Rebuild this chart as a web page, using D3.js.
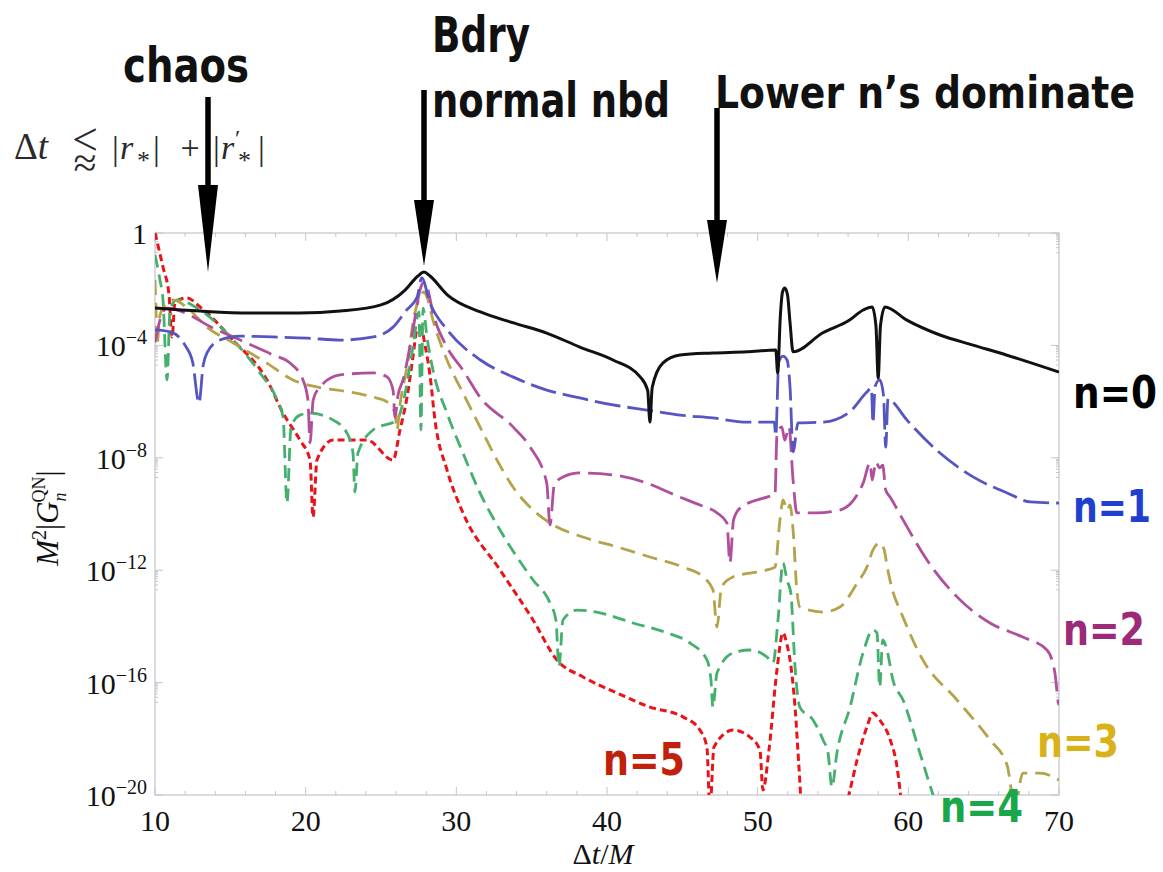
<!DOCTYPE html>
<html lang="en">
<head>
<meta charset="UTF-8">
<title>QN Green's function modes</title>
<style>
  body { margin: 0; background: #fff; }
  svg { display: block; }
  .lbl { font-family: "Liberation Sans Narrow", "DejaVu Sans Condensed", "Arial Narrow", sans-serif; font-weight: 700; }
  .serif { font-family: "Liberation Serif", "DejaVu Serif", serif; }
</style>
</head>
<body>
<div id="chart"></div>
<script src="https://cdn.jsdelivr.net/npm/d3@7"></script>
<script>
// points are [Δt/M, log10 of M^2 |G_n^QN|]
var n0 = [[10,-2.67],[13,-2.78],[16.3,-2.85],[19.6,-2.85],[22.3,-2.78],[25,-2.56],[26.6,-2.03],[27.45,-1.53],[27.85,-1.39],[28.25,-1.53],[29.4,-2.2],[31.6,-2.81],[33.8,-3.2],[36,-3.56],[38.2,-4.06],[40.4,-4.52],[42.2,-5.12],[42.7,-5.6],[42.85,-6.73],[43.0,-5.5],[43.7,-4.63],[44.85,-4.34],[47,-4.27],[49.3,-4.23],[51.2,-4.16],[51.33,-4.98],[51.5,-3.0],[51.65,-2.1],[51.8,-1.96],[51.98,-2.2],[52.15,-3.2],[52.35,-4.23],[54.3,-3.56],[56.1,-3.1],[57,-2.74],[57.6,-2.63],[57.85,-3.3],[58.0,-5.16],[58.15,-3.3],[58.45,-2.63],[59.9,-3.1],[62.1,-3.63],[64.3,-3.99],[66.5,-4.34],[70,-4.95]];

var n1 = [[10,-3.45],[11,-3.52],[12.0,-4.0],[12.5,-4.6],[12.92,-6.05],[13.2,-4.7],[13.45,-4.27],[14.3,-3.81],[15.65,-3.67],[17.8,-3.7],[20.1,-3.74],[22.3,-3.81],[24.5,-3.7],[25.8,-3.35],[26.7,-2.74],[27.4,-2.28],[27.7,-1.6],[28.25,-2.49],[29.4,-3.45],[31.6,-4.52],[33.75,-5.12],[36,-5.59],[38.2,-5.87],[40.4,-6.12],[42.65,-6.3],[44.85,-6.48],[47,-6.58],[49.3,-6.73],[51.1,-6.73],[51.2,-7.22],[51.4,-4.59],[51.68,-4.38],[51.95,-4.52],[52.15,-5.5],[52.35,-7.79],[52.68,-6.76],[54.35,-6.73],[56.1,-6.37],[57.25,-5.66],[57.55,-5.52],[57.65,-6.76],[57.8,-5.45],[58.1,-5.23],[58.35,-5.77],[58.5,-7.62],[58.65,-5.9],[58.8,-5.94],[59.9,-6.65],[62.1,-7.83],[64.3,-8.68],[66.55,-9.25],[68.1,-9.57],[70,-9.61]];

var n2 = [[10,-3.9],[10.33,-3.1],[10.8,-2.67],[12.3,-2.92],[13.45,-3.27],[15.65,-3.81],[17.83,-4.34],[18.96,-4.63],[19.82,-5.23],[20.15,-5.94],[20.29,-7.47],[20.5,-5.94],[20.95,-5.48],[22.28,-5.05],[24.47,-4.98],[25.4,-5.12],[25.8,-5.59],[25.93,-6.55],[26.13,-5.77],[26.46,-5.23],[27.12,-3.45],[27.59,-2.03],[27.79,-1.78],[28.05,-1.92],[28.45,-2.85],[29.38,-4.06],[30.44,-4.88],[31.57,-5.84],[33.76,-6.9],[34.9,-7.62],[36.0,-8.9],[36.22,-10.39],[36.5,-8.97],[37.08,-8.68],[38.2,-8.54],[40.4,-8.61],[42.65,-8.9],[44.84,-9.4],[46.17,-9.68],[47.3,-9.96],[47.96,-10.32],[48.16,-11.74],[48.4,-10.21],[48.83,-9.79],[50.62,-9.4],[51.15,-9.32],[51.28,-7.19],[51.6,-6.9],[51.8,-7.37],[52.08,-6.9],[52.35,-8.79],[52.6,-9.96],[53.9,-9.96],[55.46,-9.86],[57.0,-8.9],[57.46,-8.19],[57.6,-8.79],[57.85,-8.15],[58.1,-8.36],[58.3,-8.26],[58.5,-9.15],[58.8,-9.4],[59.65,-10.21],[61.24,-11.64],[63.23,-12.95],[65.42,-13.88],[67.6,-14.38],[69.2,-14.84],[69.73,-15.66],[69.93,-16.62],[70,-16.8]];

var n3 = [[10,-1.67],[10.07,-2.74],[10.13,-3.99],[10.33,-2.92],[10.8,-2.49],[11.2,-2.38],[12.3,-2.74],[13.45,-3.35],[15.18,-3.91],[17.43,-4.63],[19.16,-5.23],[20.75,-5.48],[22.94,-5.66],[24.47,-5.84],[25.4,-6.01],[25.93,-6.41],[26.06,-7.01],[26.26,-6.12],[26.8,-4.52],[27.12,-3.2],[27.59,-2.28],[27.85,-2.1],[28.05,-2.28],[28.45,-3.1],[29.38,-4.52],[30.44,-5.69],[31.57,-6.9],[32.7,-8.08],[33.76,-9.04],[35.09,-9.86],[36.22,-10.32],[38.4,-10.82],[40.66,-11.17],[42.85,-11.53],[45.04,-11.89],[46.37,-12.24],[47.03,-12.7],[47.3,-14.02],[47.6,-12.6],[48.36,-12.24],[50.62,-11.99],[51.15,-11.89],[51.48,-10.21],[51.68,-9.5],[51.95,-9.86],[52.15,-9.68],[52.35,-10.57],[52.6,-12.7],[52.8,-13.31],[54.33,-13.49],[55.46,-13.31],[56.6,-12.46],[57.25,-11.89],[57.65,-11.28],[58.1,-11.03],[58.4,-11.28],[58.6,-11.89],[59.0,-12.81],[59.45,-13.42],[60.97,-15.2],[63.23,-16.62],[65.42,-18.04],[66.55,-18.93],[67.08,-20.4],[67.6,-19.22],[68.74,-19.22],[70,-19.47]];

var n4 = [[10,-0.78],[10.33,-1.67],[10.53,-2.38],[10.8,-5.23],[11.0,-2.74],[11.46,-2.38],[12.99,-2.74],[15.18,-3.81],[16.97,-4.98],[18.1,-5.94],[18.5,-6.55],[18.76,-9.61],[19.03,-6.9],[19.62,-6.48],[20.29,-6.41],[21.8,-6.65],[22.74,-7.12],[23.14,-7.83],[23.27,-9.22],[23.47,-7.83],[24.47,-7.01],[26.06,-6.65],[26.46,-6.05],[27.12,-4.06],[27.52,-2.81],[27.65,-7.01],[27.79,-2.67],[28.05,-3.7],[28.45,-4.88],[29.38,-6.41],[30.44,-7.83],[31.57,-9.25],[32.9,-10.57],[35.09,-12.35],[36.22,-13.17],[36.61,-13.77],[36.81,-15.44],[37.08,-13.77],[38.0,-13.42],[39.54,-13.52],[41.73,-13.88],[43.98,-14.23],[45.5,-14.59],[46.64,-15.2],[46.9,-15.91],[47.03,-16.87],[47.3,-15.66],[48.36,-14.95],[49.49,-14.84],[50.62,-15.09],[51.02,-15.3],[51.35,-13.77],[51.68,-11.74],[51.95,-12.35],[52.2,-12.81],[52.48,-15.44],[52.8,-16.87],[53.67,-17.33],[54.34,-18.04],[54.67,-18.51],[54.93,-19.72],[55.26,-18.51],[56.13,-16.87],[56.99,-14.95],[57.65,-14.13],[57.92,-14.23],[58.1,-16.16],[58.3,-14.48],[58.58,-14.84],[58.98,-15.91],[59.65,-16.62],[60.77,-18.51],[61.64,-20.0],[62.4,-21.2]];

var n5 = [[10,0],[10.53,-1.21],[10.93,-2.21],[11.13,-3.7],[11.33,-2.46],[12.12,-2.31],[12.99,-2.63],[15.18,-3.81],[17.43,-5.23],[18.5,-6.41],[19.62,-7.37],[20.29,-8.08],[20.49,-10.11],[20.75,-8.08],[21.81,-7.37],[24.07,-7.37],[25.8,-8.08],[26.26,-7.01],[26.73,-5.84],[27.12,-4.41],[27.39,-3.45],[27.65,-3.35],[27.92,-3.99],[28.25,-5.05],[28.58,-6.65],[29.38,-8.43],[30.44,-9.96],[32.9,-11.99],[35.09,-13.77],[36.68,-15.2],[38.41,-15.8],[40.66,-16.37],[42.85,-16.87],[45.04,-17.22],[46.17,-17.69],[46.63,-18.29],[46.83,-20.5],[47.1,-18.29],[48.36,-17.69],[49.49,-17.94],[50.15,-18.4],[50.35,-19.82],[50.75,-18.4],[51.28,-15.55],[51.68,-14.23],[51.95,-14.66],[52.15,-15.2],[52.48,-16.87],[52.74,-19.0],[52.94,-20.5],[55.8,-20.5],[56.13,-19.82],[56.6,-18.75],[57.25,-17.58],[57.65,-17.08],[58.0,-17.26],[58.1,-17.33],[58.8,-18.04],[59.25,-19.0],[59.58,-20.5]];

var xTicks = [10, 20, 30, 40, 50, 60, 70];
var yTickExps = [0, -4, -8, -12, -16, -20];
var modeNames = ["n=0", "n=1", "n=2", "n=3", "n=4", "n=5"];

var W = 1163, H = 872;
var pLeft = 155, pRight = 1059, pTop = 233, pBottom = 795;

var x = d3.scaleLinear().domain([10, 70]).range([pLeft, pRight]);
var y = d3.scaleLog().domain([1e-20, 1]).range([pBottom, pTop]);

var svg = d3.select("#chart").append("svg")
  .attr("width", W).attr("height", H);

svg.append("rect").attr("width", W).attr("height", H).attr("fill", "#fff");

svg.append("clipPath").attr("id", "plotclip")
  .append("rect").attr("x", pLeft).attr("y", pTop - 2)
  .attr("width", pRight - pLeft).attr("height", pBottom - pTop + 2);

// frame and ticks (Mathematica style, ticks on every side)
var frame = svg.append("g").attr("stroke", "#c4c4ca").attr("fill", "none");
frame.append("rect").attr("x", pLeft).attr("y", pTop)
  .attr("width", pRight - pLeft).attr("height", pBottom - pTop).attr("stroke-width", 1.2);

d3.range(10, 71, 2).forEach(function(v) {
  var len = v % 10 === 0 ? 8 : 4;
  frame.append("line").attr("x1", x(v)).attr("x2", x(v)).attr("y1", pBottom).attr("y2", pBottom - len);
  frame.append("line").attr("x1", x(v)).attr("x2", x(v)).attr("y1", pTop).attr("y2", pTop + len);
});

yTickExps.forEach(function(k) {
  var yk = y(Math.pow(10, k));
  frame.append("line").attr("x1", pLeft).attr("x2", pLeft + 8).attr("y1", yk).attr("y2", yk);
  frame.append("line").attr("x1", pRight).attr("x2", pRight - 8).attr("y1", yk).attr("y2", yk);
  if (k > -20) {
    d3.range(2, 10).forEach(function(m) {
      var yy = y(m * Math.pow(10, k - 1));
      frame.append("line").attr("x1", pLeft).attr("x2", pLeft + 3).attr("y1", yy).attr("y2", yy);
      frame.append("line").attr("x1", pRight).attr("x2", pRight - 3).attr("y1", yy).attr("y2", yy);
    });
  }
});

// tick labels
var xl = svg.append("g").attr("class", "serif").attr("font-size", 30).attr("fill", "#111").attr("text-anchor", "middle");
xTicks.forEach(function(v) {
  xl.append("text").attr("x", x(v)).attr("y", 831).text(v);
});

var yl = svg.append("g").attr("class", "serif").attr("fill", "#111").attr("text-anchor", "end");
yTickExps.forEach(function(k) {
  var yy = y(Math.pow(10, k));
  var t = yl.append("text").attr("x", 147).attr("y", yy + 11).attr("font-size", 30);
  if (k === 0) { t.text("1"); return; }
  t.append("tspan").text("10");
  t.append("tspan").attr("font-size", 20).attr("dy", -12).text("\u2212" + (-k));
});

// axis titles
var xt = svg.append("text").attr("class", "serif").attr("x", 603).attr("y", 864)
  .attr("font-size", 30).attr("text-anchor", "middle").attr("fill", "#111");
xt.append("tspan").text("\u0394");
xt.append("tspan").attr("font-style", "italic").text("t");
xt.append("tspan").text("/");
xt.append("tspan").attr("font-style", "italic").text("M");

var yt = svg.append("text").attr("class", "serif").attr("font-size", 31).attr("fill", "#111")
  .attr("text-anchor", "middle").attr("transform", "translate(58,518) rotate(-90)");
yt.append("tspan").attr("font-style", "italic").text("M");
yt.append("tspan").attr("font-size", 20).attr("dy", -12).text("2");
yt.append("tspan").attr("dy", 12).text("|");
yt.append("tspan").attr("font-style", "italic").text("G");
yt.append("tspan").attr("font-size", 18).attr("font-style", "italic").attr("dy", 8).text("n");
yt.append("tspan").attr("font-size", 18).attr("dx", -10).attr("dy", -21).text("QN");
yt.append("tspan").attr("dy", 13).text("|");

// curves
var line = d3.line()
  .x(function(d) { return x(d[0]); })
  .y(function(d) { return y(Math.pow(10, d[1])); })
  .curve(d3.curveMonotoneX);

var curves = [
  { data: n5, color: "#e8141a", dash: "7 4", w: 3 },
  { data: n4, color: "#45b06e", dash: "13 7", w: 2.8 },
  { data: n3, color: "#b4a34a", dash: "15 8", w: 2.8 },
  { data: n2, color: "#b04f9b", dash: "24 8", w: 2.8 },
  { data: n1, color: "#5555c4", dash: "26 7", w: 2.8 },
  { data: n0, color: "#111111", dash: null, w: 3 }
];

var plot = svg.append("g").attr("clip-path", "url(#plotclip)");
curves.forEach(function(c) {
  plot.append("path").datum(c.data)
    .attr("d", line)
    .attr("fill", "none")
    .attr("stroke", c.color)
    .attr("stroke-width", c.w)
    .attr("stroke-dasharray", c.dash)
    .attr("stroke-linejoin", "round");
});

// mode labels
var modeLayout = [
  { x: 1073, y: 408, w: 84, color: "#000000" },
  { x: 1073, y: 522, w: 78, color: "#1f3fcf" },
  { x: 1063, y: 645, w: 82, color: "#9c2a78" },
  { x: 1037, y: 757, w: 82, color: "#d9b21a" },
  { x: 940, y: 822, w: 83, color: "#1aa64a" },
  { x: 603, y: 775, w: 82, color: "#c0200c" }
];
modeNames.forEach(function(name, i) {
  var m = modeLayout[i];
  svg.append("text").attr("class", "lbl").attr("x", m.x).attr("y", m.y)
    .attr("font-size", 44).attr("fill", m.color)
    .attr("textLength", m.w).attr("lengthAdjust", "spacingAndGlyphs")
    .text(name);
});

// annotations
var notes = [
  { text: "chaos", x: 123, y: 82, w: 126, size: 48 },
  { text: "Bdry", x: 432, y: 52, w: 98, size: 50 },
  { text: "normal nbd", x: 432, y: 117, w: 238, size: 48 },
  { text: "Lower n\u2019s dominate", x: 715, y: 108, w: 420, size: 44 }
];
notes.forEach(function(n) {
  svg.append("text").attr("class", "lbl").attr("x", n.x).attr("y", n.y)
    .attr("font-size", n.size).attr("fill", "#111")
    .attr("textLength", n.w).attr("lengthAdjust", "spacingAndGlyphs")
    .text(n.text);
});

var arrows = [
  { x: 208, y0: 97, head: 185, tip: 272 },
  { x: 424, y0: 90, head: 200, tip: 266 },
  { x: 717, y0: 108, head: 220, tip: 283 }
];
arrows.forEach(function(a) {
  svg.append("line").attr("x1", a.x).attr("x2", a.x).attr("y1", a.y0).attr("y2", a.head + 2)
    .attr("stroke", "#000").attr("stroke-width", 5.5);
  svg.append("path")
    .attr("d", "M" + (a.x - 10) + "," + a.head + "L" + (a.x + 10) + "," + a.head + "L" + a.x + "," + a.tip + "Z")
    .attr("fill", "#000");
});

// Δt ⪅ |r*| + |r'*|, glyphs placed one by one
var f = svg.append("g").attr("class", "serif").attr("fill", "#2a2a2a").attr("font-size", 34);
var t1 = f.append("text").attr("x", 14).attr("y", 159).attr("font-size", 37);
t1.append("tspan").text("\u0394");
t1.append("tspan").attr("font-style", "italic").text("t");
var le = f.append("text").attr("text-anchor", "middle");
le.append("tspan").attr("x", 85).attr("y", 155).attr("font-size", 46).text("<");
le.append("tspan").attr("x", 85).attr("y", 177).attr("font-size", 42).text("\u2248");
f.append("text").attr("x", 112).attr("y", 160).text("|");
f.append("text").attr("x", 120).attr("y", 159).attr("font-style", "italic").text("r");
f.append("text").attr("x", 137).attr("y", 169).attr("font-size", 26).text("*");
f.append("text").attr("x", 153).attr("y", 160).text("|");
f.append("text").attr("x", 190).attr("y", 159).attr("text-anchor", "middle").text("+");
f.append("text").attr("x", 213).attr("y", 160).text("|");
f.append("text").attr("x", 221).attr("y", 159).attr("font-style", "italic").text("r");
f.append("text").attr("x", 235).attr("y", 146).attr("font-size", 24).text("\u2032");
f.append("text").attr("x", 238).attr("y", 169).attr("font-size", 26).text("*");
f.append("text").attr("x", 258).attr("y", 160).text("|");
</script>
</body>
</html>
